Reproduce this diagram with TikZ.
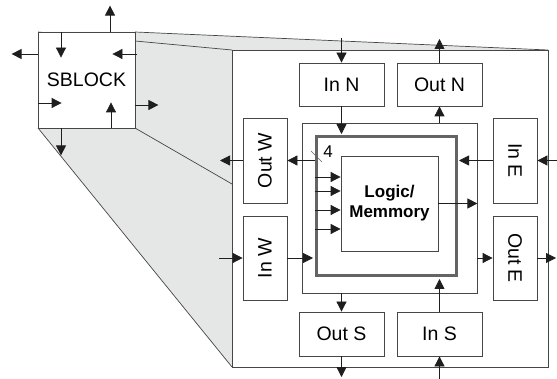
\documentclass[tikz,border=0pt]{standalone}
\usepackage{fontspec}
\setmainfont{Liberation Sans}
\usetikzlibrary{arrows.meta}
\definecolor{facegray}{RGB}{229,230,230}
\definecolor{edge}{RGB}{70,70,70}
\definecolor{arr}{RGB}{30,30,30}
\definecolor{thickc}{RGB}{100,100,100}
\begin{document}
\begin{tikzpicture}[x=1pt,y=-1pt,
  box/.style={draw=edge,line width=0.8pt,fill=white,inner sep=0pt,font=\fontsize{19.5}{22}\selectfont},
  arrow/.style={draw=arr,line width=0.8pt,-{Triangle[length=10pt,width=10pt]}},
  ]
\useasboundingbox (0,0) rectangle (557,379);
% frustum
\fill[facegray] (38,32) -- (135,32) -- (548,50) -- (548,367) -- (232,367) -- (38,128) -- cycle;
\draw[edge,line width=0.7pt] (38,32) -- (232,50) (135,32) -- (548,50) (38,128) -- (232,367) (135,128) -- (232,184);
\node[box, minimum width=316pt, minimum height=317pt] (big) at (390,208.5) {};
\node[box, minimum width=97pt, minimum height=96pt] (sb) at (86.5,80) {SBLOCK};
% inner nodes
\node[box, minimum width=175pt, minimum height=170pt] (frame) at (389.5,208) {};
\node[box, draw=thickc, line width=3pt, minimum width=140pt, minimum height=139pt] (thick) at (386,206.5) {};
\node[box, minimum width=97pt, minimum height=95pt, align=center,
      font=\fontsize{17}{20}\selectfont\bfseries] (logic) at (389.5,203.5) {Logic/\\Memmory};
\node[box, minimum width=85pt, minimum height=43pt] (inn) at (341.5,84.5) {In N};
\node[box, minimum width=85pt, minimum height=43pt] (outn) at (439.5,84.5) {Out N};
\node[box, minimum width=44pt, minimum height=85pt] (outw) at (265,160.5) {\rotatebox{90}{Out W}};
\node[box, minimum width=44pt, minimum height=84pt] (inw) at (265,258) {\rotatebox{90}{In W}};
\node[box, minimum width=44pt, minimum height=85pt] (ine) at (515,160.5) {\rotatebox{-90}{In E}};
\node[box, minimum width=44pt, minimum height=84pt] (oute) at (515,258) {\rotatebox{-90}{Out E}};
\node[box, minimum width=85pt, minimum height=44pt] (outs) at (341.5,334) {Out S};
\node[box, minimum width=85pt, minimum height=44pt] (ins) at (439.5,334) {In S};
% free ends
\coordinate (innin) at (341.5,38);
\coordinate (outnout) at (439.5,39);
\coordinate (outwout) at (220,160.5);
\coordinate (inwin) at (219,258);
\coordinate (outeout) at (556,258);
\coordinate (inein) at (557,160.5);
\coordinate (outsout) at (341.5,377);
\coordinate (insin) at (439.5,379);
% connectors
\draw[arrow] (innin) -- (inn);
\draw[arrow] (outn) -- (outnout);
\draw[arrow, shorten >=1.5pt] (inn.south) -- (inn.south |- thick.north);
\draw[arrow] (outn.south |- frame.north) -- (outn.south);
\draw[arrow] (thick.west |- outw) -- (outw.east);
\draw[arrow] (outw.west) -- (outwout);
\draw[arrow] (inwin) -- (inw.west);
\draw[arrow, shorten >=1.5pt] (inw.east) -- (inw.east -| thick.west);
\draw[arrow] (oute.west -| frame.east) -- (oute.west);
\draw[arrow] (oute.east) -- (outeout);
\draw[arrow] (inein) -- (ine.east);
\draw[arrow, shorten >=1.5pt] (ine.west) -- (ine.west -| thick.east);
\draw[arrow] (logic.east) -- (logic.east -| frame.east);
\draw[arrow] (outs.north |- frame.south) -- (outs.north);
\draw[arrow] (outs.south) -- (outsout);
\draw[arrow] (insin) -- (ins.south);
\draw[arrow, shorten >=1.5pt] (ins.north) -- (ins.north |- thick.south);
\foreach \yy in {177,191,210,229}
  \draw[arrow] (thick.west |- 0,\yy) -- (logic.west |- 0,\yy);
% bus mark
\draw[thickc, line width=0.6pt] (311,151) -- (322,162);
\node[font=\fontsize{17}{20}\selectfont, inner sep=0pt] (bus) at (328,152) {4};
% SBLOCK arrows
\draw[arrow] (sb.north -| 110,0) -- ++(0,-26);
\draw[arrow] (sb.north -| 61,0) -- ++(0,26);
\draw[arrow] (sb.west |- 0,54) -- ++(-26,0);
\draw[arrow] (sb.east |- 0,54) ++(2,0) -- ++(-25,0);
\draw[arrow] (sb.west |- 0,103) -- ++(24,0);
\draw[arrow] (sb.south -| 111,0) -- ++(0,-26);
\draw[arrow] (sb.east |- 0,105) -- ++(23,0);
\draw[arrow] (sb.south -| 61,0) -- ++(0,27);
\end{tikzpicture}
\end{document}
